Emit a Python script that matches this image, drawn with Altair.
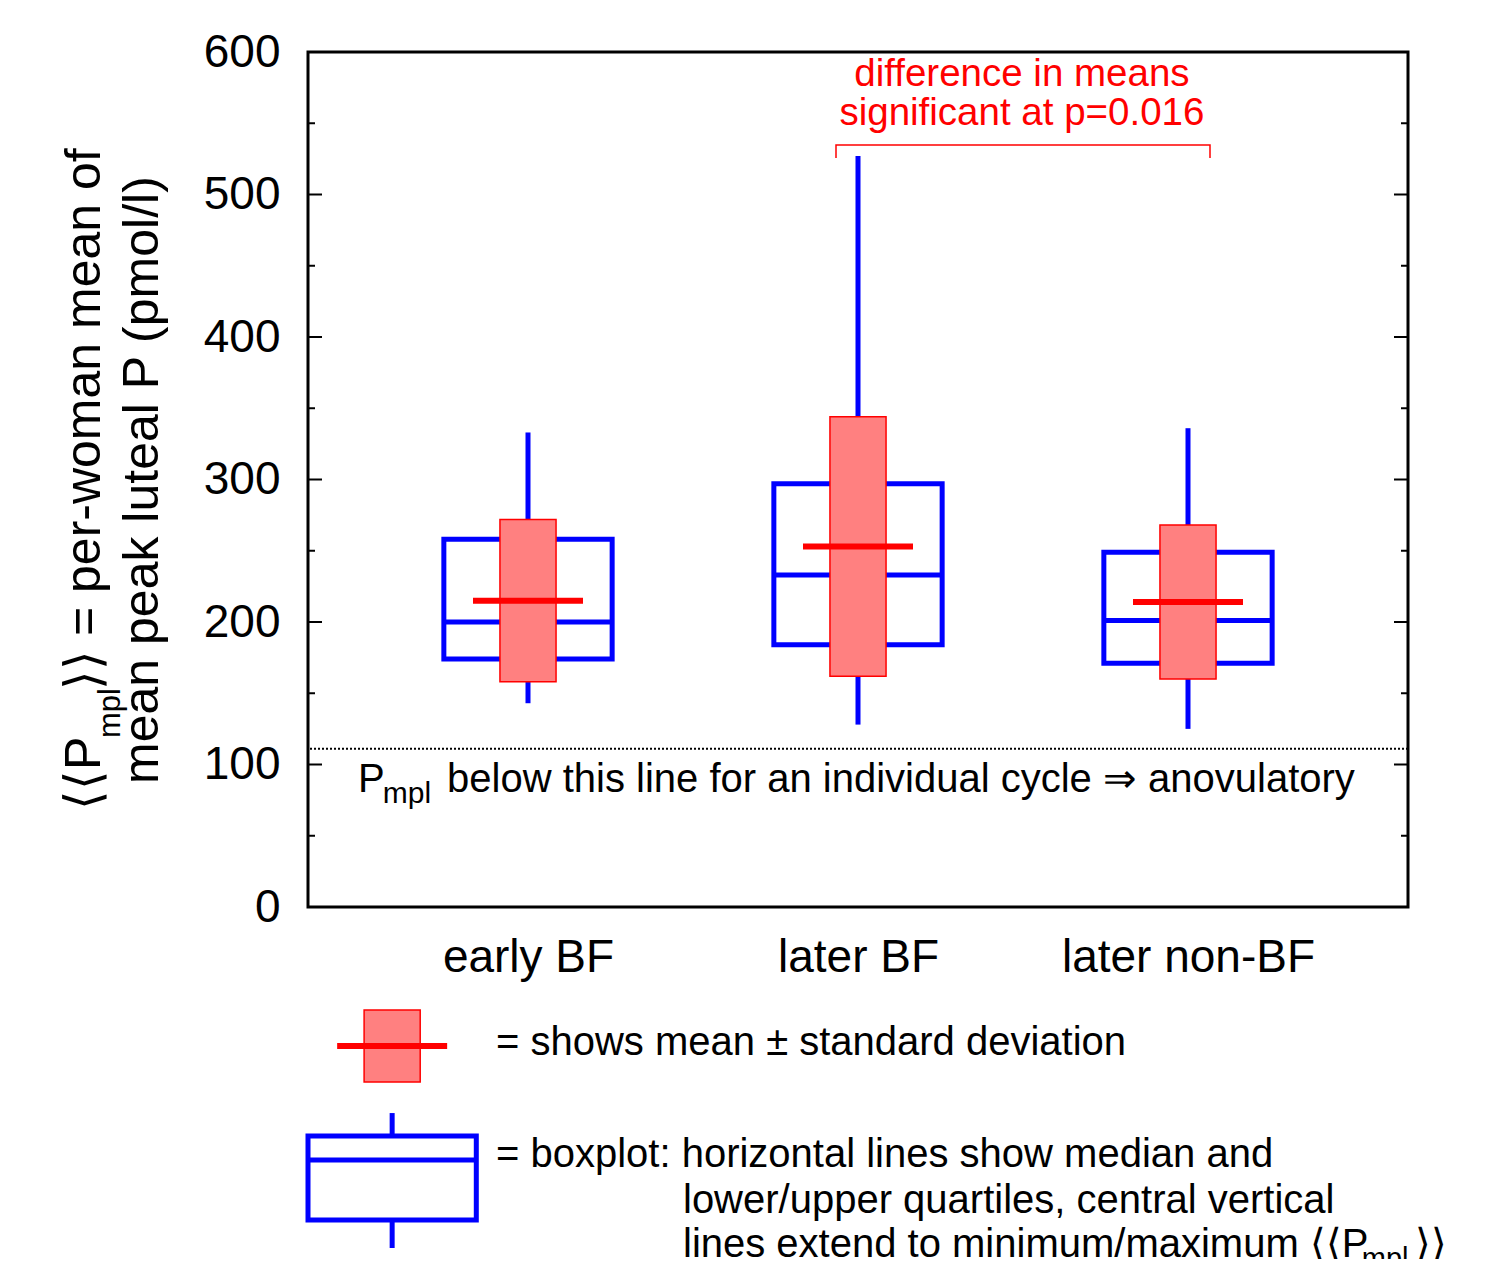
import altair as alt
import pandas as pd

# ---------------- data ----------------
categories = ["early BF", "later BF", "later non-BF"]
cat_pos = [2, 5, 8]                       # category slots on a 0..10 axis
p_min = [143, 128, 125]
p_q1 = [174, 184, 171]
p_median = [200, 233, 201]
p_q3 = [258, 297, 249]
p_max = [333, 527, 336]
p_mean = [215, 253, 214]
p_sd = [57, 91, 54]

threshold = [111]                          # anovulatory threshold (dotted line)
major_ticks = [0, 100, 200, 300, 400, 500, 600]
minor_ticks = [50, 150, 250, 350, 450, 550]

# key glyphs (drawn below the axis in chart units)
key_pos = [0.765]
key_min = [-239.3]
key_q1 = [-219.6]
key_median = [-177.5]
key_q3 = [-160.7]
key_max = [-144.6]
key_mean = [-97.5]
key_sd = [25.3]

# bracket over the two compared groups
bracket_x = [4.8, 4.8, 8.2, 8.2]
bracket_y = [525.6, 534.7, 534.7, 525.6]

# ---------------- style ----------------
FONT = "Liberation Sans"
BLUE = "#0000ff"
RED = "#ff0000"
PINK = "#ff8080"
BOX_HALF = 0.765
SD_HALF = 0.255
MEAN_HALF = 0.5

xs = alt.Scale(domain=[0, 10], nice=False, zero=False)
ys = alt.Scale(domain=[0, 600], nice=False, zero=False)

stats = pd.DataFrame({
    "pos": cat_pos + key_pos,
    "mn": p_min + key_min,
    "q1": p_q1 + key_q1,
    "med": p_median + key_median,
    "q3": p_q3 + key_q3,
    "mx": p_max + key_max,
    "mean": p_mean + key_mean,
    "sd": p_sd + key_sd,
})
stats["bl"] = stats["pos"] - BOX_HALF
stats["br"] = stats["pos"] + BOX_HALF
stats["sl"] = stats["pos"] - SD_HALF
stats["sr"] = stats["pos"] + SD_HALF
stats["ml"] = stats["pos"] - MEAN_HALF
stats["mr"] = stats["pos"] + MEAN_HALF
stats["lo"] = stats["mean"] - stats["sd"]
stats["hi"] = stats["mean"] + stats["sd"]

label_expr = " : ".join(
    f"datum.value == {p} ? '{c}'" for p, c in zip(cat_pos[:-1], categories[:-1])
) + f" : '{categories[-1]}'"

x_axis = alt.Axis(values=cat_pos, labelExpr=label_expr, tickSize=0, domain=False,
                  grid=False, labelFont=FONT, labelFontSize=46, labelColor="black",
                  labelPadding=28, labelOverlap=False, labelFlush=False,
                  labelLimit=600, title="")
y_axis = alt.Axis(values=major_ticks, tickSize=0, domain=False, grid=False,
                  labelFont=FONT, labelFontSize=46, labelColor="black",
                  labelPadding=28, labelOverlap=False, labelLimit=600, title="")


def X(f):
    return alt.X(f, scale=xs, axis=x_axis)


def Y(f):
    return alt.Y(f, scale=ys, axis=y_axis)


base = alt.Chart(stats)

box = base.mark_rect(fill="white", fillOpacity=0, stroke=BLUE, strokeWidth=5).encode(
    x=X("bl:Q"), x2="br:Q", y=Y("q1:Q"), y2="q3:Q")
median = base.mark_rule(color=BLUE, strokeWidth=5).encode(
    x=X("bl:Q"), x2="br:Q", y=Y("med:Q"))
wlow = base.mark_rule(color=BLUE, strokeWidth=5).encode(
    x=X("pos:Q"), y=Y("mn:Q"), y2="q1:Q")
whigh = base.mark_rule(color=BLUE, strokeWidth=5).encode(
    x=X("pos:Q"), y=Y("q3:Q"), y2="mx:Q")
sdbox = base.mark_rect(fill=PINK, stroke=RED, strokeWidth=1.5).encode(
    x=X("sl:Q"), x2="sr:Q", y=Y("lo:Q"), y2="hi:Q")
meanline = base.mark_rule(color=RED, strokeWidth=6).encode(
    x=X("ml:Q"), x2="mr:Q", y=Y("mean:Q"))

# inward ticks on both sides
maj = alt.Chart(pd.DataFrame({"v": major_ticks}))
mnr = alt.Chart(pd.DataFrame({"v": minor_ticks}))
tick_layers = []
for ch, ln in ((maj, 14), (mnr, 7)):
    tick_layers.append(ch.mark_rule(color="black", strokeWidth=2).encode(
        y=Y("v:Q"), x=alt.value(0), x2=alt.value(ln)))
    tick_layers.append(ch.mark_rule(color="black", strokeWidth=2).encode(
        y=Y("v:Q"), x=alt.value(1100), x2=alt.value(1100 - ln)))

thr = alt.Chart(pd.DataFrame({"v": threshold})).mark_rule(
    color="black", strokeWidth=2, strokeDash=[2, 2]).encode(y=Y("v:Q"))

bracket = alt.Chart(pd.DataFrame({"x": bracket_x, "y": bracket_y, "i": [0, 1, 2, 3]})).mark_line(
    color=RED, strokeWidth=1.5).encode(x=X("x:Q"), y=Y("y:Q"), order="i:Q")


def texts(xv, yv, tv, **kw):
    df = pd.DataFrame({"x": xv, "y": yv, "t": tv})
    return alt.Chart(df).mark_text(font=FONT, **kw).encode(
        x=X("x:Q"), y=Y("y:Q"), text="t:N")


red_text = texts([6.49, 6.49], [576.1, 549.1],
                 ["difference in means", "significant at p=0.016"],
                 fontSize=38.5, color=RED, align="center", baseline="alphabetic")

thr_main = texts([0.455, 1.264], [80.7, 80.7],
                 ["P", "below this line for an individual cycle \u21d2 anovulatory"],
                 fontSize=40, color="black", align="left", baseline="alphabetic")
thr_sub = texts([0.68], [73.0], ["mpl"], fontSize=30, color="black",
                align="left", baseline="alphabetic")

key_main = texts([1.709, 1.709, 3.409, 3.409], [-103.9, -182.5, -214.7, -245.6],
                 ["= shows mean \u00b1 standard deviation",
                  "= boxplot: horizontal lines show median and",
                  "lower/upper quartiles, central vertical",
                  "lines extend to minimum/maximum \u27e8\u27e8P"],
                 fontSize=40, color="black", align="left", baseline="alphabetic")
key_sub = texts([9.58], [-253.5], ["mpl"], fontSize=29, color="black",
                align="left", baseline="alphabetic")
key_close = texts([10.06], [-245.6], ["\u27e9\u27e9"], fontSize=40, color="black",
                  align="left", baseline="alphabetic")

ytitle_main = texts([-1.891, -1.891], [68.1, 152.3],
                    ["\u27e8\u27e8P", "\u27e9\u27e9 = per-woman mean of"],
                    fontSize=50, color="black", align="left", baseline="alphabetic", angle=270)
ytitle_sub = texts([-1.709], [118.6], ["mpl"], fontSize=31, color="black",
                   align="left", baseline="alphabetic", angle=270)
ytitle_2 = texts([-1.364], [299.6], ["mean peak luteal P (pmol/l)"],
                 fontSize=50, color="black", align="center", baseline="alphabetic", angle=270)

chart = alt.layer(
    box, *tick_layers, thr, median, wlow, whigh, sdbox, meanline, bracket,
    red_text, thr_main, thr_sub, key_main, key_sub, key_close,
    ytitle_main, ytitle_sub, ytitle_2,
).properties(
    width=1100, height=855,
    autosize=alt.AutoSizeParams(type="none"),
    padding={"left": 300, "top": 44, "right": 70, "bottom": 352},
    background="white",
).configure_view(stroke="black", strokeWidth=3)

chart.save("out.html", embed_options={"renderer": "svg", "actions": False})
